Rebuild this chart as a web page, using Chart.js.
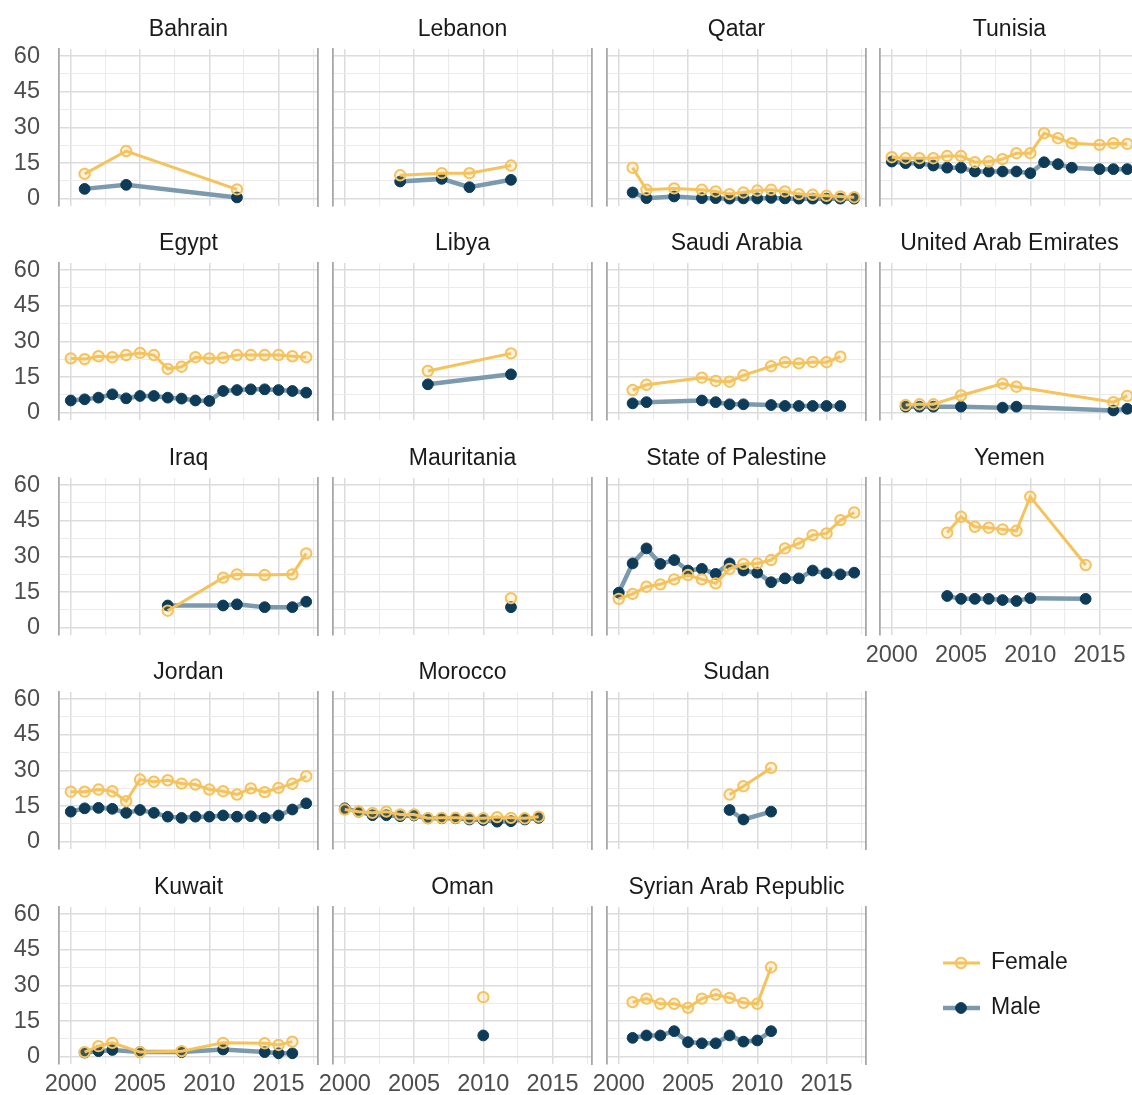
<!DOCTYPE html>
<html><head><meta charset="utf-8">
<script src="https://cdn.jsdelivr.net/npm/chart.js@4.4.1/dist/chart.umd.min.js"></script>
<style>
html,body{margin:0;padding:0;background:#fff;width:1132px;height:1095px;overflow:hidden;}
#wrap{position:relative;width:1132px;height:1095px;overflow:hidden;background:#fff;}
#wrap canvas{position:absolute;}
</style></head><body><div id="wrap"></div>
<script>
// ---------- tick labels ----------
const xMajorTicks = [2000, 2005, 2010, 2015];
const yMajorTicks = [0, 15, 30, 45, 60];
const seriesNames = ["Female", "Male"];

// ---------- panel order ----------
const countries = ["Bahrain","Lebanon","Qatar","Tunisia","Egypt","Libya","Saudi Arabia","United Arab Emirates",
  "Iraq","Mauritania","State of Palestine","Yemen","Jordan","Morocco","Sudan","Kuwait","Oman","Syrian Arab Republic"];

// ---------- data ----------
const bahrainYears = [2001, 2004, 2012];
const bahrainFemale = [10.5, 20.1, 4.0];
const bahrainMale = [4.2, 5.9, 0.6];

const lebanonYears = [2004, 2007, 2009, 2012];
const lebanonFemale = [9.9, 10.8, 10.8, 14.0];
const lebanonMale = [7.3, 8.4, 4.9, 8.0];

const qatarYears = [2001, 2002, 2004, 2006, 2007, 2008, 2009, 2010, 2011, 2012, 2013, 2014, 2015, 2016, 2017];
const qatarFemale = [13.1, 3.8, 4.4, 3.8, 3.1, 2.0, 2.7, 3.5, 3.8, 3.1, 2.0, 1.7, 1.3, 1.0, 0.7];
const qatarMale = [2.7, 0.3, 1.0, 0.3, 0.3, 0.1, 0.2, 0.2, 0.4, 0.2, 0.1, 0.1, 0.1, 0.1, 0.1];

const tunisiaYears = [2000, 2001, 2002, 2003, 2004, 2005, 2006, 2007, 2008, 2009, 2010, 2011, 2012, 2013, 2015, 2016, 2017];
const tunisiaFemale = [17.5, 17.1, 17.1, 17.1, 18.0, 18.0, 15.4, 15.7, 16.7, 19.2, 19.2, 27.6, 25.5, 23.4, 22.7, 23.4, 23.1];
const tunisiaMale = [15.7, 15.0, 15.0, 14.0, 13.1, 13.1, 11.5, 11.5, 11.5, 11.5, 10.8, 15.4, 14.6, 13.1, 12.5, 12.5, 12.5];

const egyptYears = [2000, 2001, 2002, 2003, 2004, 2005, 2006, 2007, 2008, 2009, 2010, 2011, 2012, 2013, 2014, 2015, 2016, 2017];
const egyptFemale = [22.9, 22.6, 23.8, 23.4, 24.3, 25.2, 24.3, 18.5, 19.4, 23.4, 22.9, 23.2, 24.3, 24.3, 24.3, 24.3, 23.8, 23.4];
const egyptMale = [5.2, 5.7, 6.4, 7.8, 6.1, 7.1, 7.1, 6.4, 6.0, 5.2, 5.0, 9.2, 9.6, 9.9, 9.9, 9.6, 9.2, 8.5];

const libyaYears = [2006, 2012];
const libyaFemale = [17.6, 25.0];
const libyaMale = [12.0, 16.2];

const saudiYears = [2001, 2002, 2006, 2007, 2008, 2009, 2011, 2012, 2013, 2014, 2015, 2016];
const saudiFemale = [9.6, 11.8, 14.8, 13.4, 13.1, 15.8, 19.6, 21.3, 20.8, 21.4, 21.3, 23.6];
const saudiMale = [4.0, 4.5, 5.2, 4.5, 3.6, 3.6, 3.3, 2.9, 2.9, 2.9, 2.9, 2.9];

const uaeYears = [2001, 2002, 2003, 2005, 2008, 2009, 2016, 2017];
const uaeFemale = [3.3, 3.6, 3.6, 7.3, 12.3, 11.0, 4.5, 7.1];
const uaeMale = [2.6, 2.6, 2.6, 2.6, 2.2, 2.6, 1.0, 1.7];

const iraqYears = [2007, 2011, 2012, 2014, 2016, 2017];
const iraqFemale = [7.2, 21.1, 22.5, 22.2, 22.5, 31.3];
const iraqMale = [9.4, 9.4, 9.9, 8.7, 8.7, 11.0];

const mauritaniaYears = [2012];
const mauritaniaFemale = [12.5];
const mauritaniaMale = [8.7];

const palestineYears = [2000, 2001, 2002, 2003, 2004, 2005, 2006, 2007, 2008, 2009, 2010, 2011, 2012, 2013, 2014, 2015, 2016, 2017];
const palestineFemale = [12.2, 14.3, 17.3, 18.3, 20.4, 22.2, 20.4, 18.7, 24.8, 26.9, 27.1, 28.5, 33.4, 35.5, 39.0, 39.7, 45.3, 48.5];
const palestineMale = [14.8, 27.1, 33.4, 26.9, 28.5, 24.1, 24.8, 22.7, 27.1, 24.1, 23.2, 19.2, 20.8, 20.8, 24.1, 22.9, 22.5, 23.2];

const yemenYears = [2004, 2005, 2006, 2007, 2008, 2009, 2010, 2014];
const yemenFemale = [40.0, 46.7, 42.5, 42.1, 41.4, 40.8, 55.1, 26.4];
const yemenMale = [13.4, 12.2, 12.2, 12.2, 11.7, 11.3, 12.5, 12.2];

const jordanYears = [2000, 2001, 2002, 2003, 2004, 2005, 2006, 2007, 2008, 2009, 2010, 2011, 2012, 2013, 2014, 2015, 2016, 2017];
const jordanFemale = [21.1, 21.1, 22.0, 21.3, 17.1, 26.2, 25.3, 25.9, 24.5, 24.1, 22.0, 21.3, 19.9, 22.5, 20.9, 22.7, 24.4, 27.6];
const jordanMale = [12.7, 14.1, 14.3, 13.9, 12.2, 13.4, 12.2, 10.6, 10.1, 10.6, 10.6, 11.1, 10.6, 10.8, 10.1, 11.1, 13.6, 16.2];

const moroccoYears = [2000, 2001, 2002, 2003, 2004, 2005, 2006, 2007, 2008, 2009, 2010, 2011, 2012, 2013, 2014];
const moroccoFemale = [13.6, 12.7, 12.2, 12.7, 11.5, 11.5, 9.9, 10.1, 10.1, 9.9, 9.9, 10.4, 10.1, 9.9, 10.6];
const moroccoMale = [14.1, 12.7, 11.2, 11.2, 10.8, 11.1, 9.9, 9.9, 9.9, 9.4, 9.2, 8.5, 8.7, 9.4, 10.1];

const sudanYears = [2008, 2009, 2011];
const sudanFemale = [19.9, 23.4, 31.1];
const sudanMale = [13.4, 9.4, 12.7];

const kuwaitYears = [2001, 2002, 2003, 2005, 2008, 2011, 2014, 2015, 2016];
const kuwaitFemale = [2.0, 4.5, 5.9, 2.0, 2.4, 5.9, 5.7, 5.0, 6.4];
const kuwaitMale = [1.8, 2.4, 2.9, 2.0, 2.0, 3.1, 2.0, 1.5, 1.5];

const omanYears = [2010];
const omanFemale = [25.1];
const omanMale = [9.0];

const syriaYears = [2001, 2002, 2003, 2004, 2005, 2006, 2007, 2008, 2009, 2010, 2011];
const syriaFemale = [23.0, 24.5, 22.3, 22.3, 20.6, 24.5, 26.2, 24.8, 22.7, 22.3, 37.7];
const syriaMale = [8.0, 9.0, 9.0, 10.8, 6.2, 5.7, 5.7, 9.0, 6.4, 6.9, 10.8];

const countrySeries = {
  "Bahrain": [bahrainYears, bahrainFemale, bahrainMale],
  "Lebanon": [lebanonYears, lebanonFemale, lebanonMale],
  "Qatar": [qatarYears, qatarFemale, qatarMale],
  "Tunisia": [tunisiaYears, tunisiaFemale, tunisiaMale],
  "Egypt": [egyptYears, egyptFemale, egyptMale],
  "Libya": [libyaYears, libyaFemale, libyaMale],
  "Saudi Arabia": [saudiYears, saudiFemale, saudiMale],
  "United Arab Emirates": [uaeYears, uaeFemale, uaeMale],
  "Iraq": [iraqYears, iraqFemale, iraqMale],
  "Mauritania": [mauritaniaYears, mauritaniaFemale, mauritaniaMale],
  "State of Palestine": [palestineYears, palestineFemale, palestineMale],
  "Yemen": [yemenYears, yemenFemale, yemenMale],
  "Jordan": [jordanYears, jordanFemale, jordanMale],
  "Morocco": [moroccoYears, moroccoFemale, moroccoMale],
  "Sudan": [sudanYears, sudanFemale, sudanMale],
  "Kuwait": [kuwaitYears, kuwaitFemale, kuwaitMale],
  "Oman": [omanYears, omanFemale, omanMale],
  "Syrian Arab Republic": [syriaYears, syriaFemale, syriaMale]
};

// ---------- layout & style ----------
const FONT = "'Liberation Sans', Arial, Helvetica, sans-serif";
Chart.defaults.font.family = FONT;
Chart.defaults.animation = false;

const X_MIN = 1999.15, X_MAX = 2017.85, Y_MIN = -3, Y_MAX = 63;
const COL_LEFT = [59, 333, 607, 880];
const ROW_TOP = [49, 263, 478, 692, 907];
const PLOT_W = 259, PLOT_H = 157;
const TITLE_H = 40, XAXIS_H = 34, YAXIS_W = 59, SIDE_PAD = 32, BOTTOM_PAD = 10;
const GRID_MAJOR = '#dcdcdc', GRID_MINOR = '#ebebeb', EDGE = '#a8a8a8';
const FEMALE_COLOR = '#f5c25c', MALE_LINE = '#7c9aad', MALE_POINT = '#0d3b58';
const TICK_FONT = 23.5;

const xGridValues = [];
xMajorTicks.forEach(v => { xGridValues.push(v, v + 2.5); });
const yGridValues = [];
yMajorTicks.forEach(v => { yGridValues.push(v); if (v < 60) yGridValues.push(v + 7.5); });

function panelPos(i) {
  if (i < 12) return [Math.floor(i / 4), i % 4];
  if (i < 15) return [3, i - 12];
  return [4, i - 15];
}

function femaleStyle(data) {
  return { label: seriesNames[0], data, borderColor: FEMALE_COLOR, borderWidth: 3,
    pointRadius: 5.2, pointHoverRadius: 5.2, pointBorderWidth: 2, pointBorderColor: FEMALE_COLOR,
    pointBackgroundColor: 'rgba(246,196,92,0.2)', pointStyle: 'circle', tension: 0, fill: false };
}
function maleStyle(data) {
  return { label: seriesNames[1], data, borderColor: MALE_LINE, borderWidth: 4.5,
    pointRadius: 5.4, pointHoverRadius: 5.4, pointBorderWidth: 1, pointBorderColor: MALE_POINT,
    pointBackgroundColor: MALE_POINT, pointStyle: 'circle', tension: 0, fill: false };
}

const zeroPad = a => { a.paddingLeft = 0; a.paddingRight = 0; a.paddingTop = 0; a.paddingBottom = 0; };
const gridColor = (ctx, majors) => (ctx.tick && majors.includes(ctx.tick.value)) ? GRID_MAJOR : GRID_MINOR;
const gridWidth = (ctx, majors) => (ctx.tick && majors.includes(ctx.tick.value)) ? 1.5 : 1.1;

function makeScales(showX, showY) {
  return {
    x: {
      type: 'linear', position: 'bottom', min: X_MIN, max: X_MAX,
      afterBuildTicks: a => { a.ticks = xGridValues.map(v => ({ value: v })); },
      afterFit: a => { a.height = showX ? XAXIS_H : 0; zeroPad(a); },
      grid: { drawTicks: false, color: c => gridColor(c, xMajorTicks), lineWidth: c => gridWidth(c, xMajorTicks) },
      border: { display: false },
      ticks: { display: showX, autoSkip: false, maxRotation: 0, minRotation: 0, padding: 6,
        color: '#4d4d4d', font: { size: TICK_FONT },
        callback: v => xMajorTicks.includes(v) ? String(v) : '' }
    },
    y: {
      type: 'linear', position: 'left', min: Y_MIN, max: Y_MAX,
      afterBuildTicks: a => { a.ticks = yGridValues.map(v => ({ value: v })); },
      afterFit: a => { a.width = showY ? YAXIS_W : 0; zeroPad(a); },
      grid: { drawTicks: false, color: c => gridColor(c, yMajorTicks), lineWidth: c => gridWidth(c, yMajorTicks) },
      border: { display: true, color: EDGE, width: 1.8 },
      ticks: { display: showY, autoSkip: false, padding: 19, color: '#4d4d4d', font: { size: TICK_FONT },
        callback: v => yMajorTicks.includes(v) ? String(v) : '' }
    },
    yr: {
      type: 'linear', position: 'right', min: Y_MIN, max: Y_MAX,
      afterFit: a => { a.width = 0; zeroPad(a); },
      grid: { display: false, drawTicks: false },
      border: { display: true, color: EDGE, width: 1.8 },
      ticks: { display: false }
    }
  };
}

const wrap = document.getElementById('wrap');

countries.forEach((name, i) => {
  const [r, c] = panelPos(i);
  const showX = (r === 4) || name === 'Yemen';
  const showY = (c === 0);
  const leftExtra = showY ? YAXIS_W : SIDE_PAD;
  const w = leftExtra + PLOT_W + SIDE_PAD;
  const h = TITLE_H + PLOT_H + (showX ? XAXIS_H : BOTTOM_PAD);
  const cv = document.createElement('canvas');
  cv.width = w; cv.height = h;
  cv.style.width = w + 'px'; cv.style.height = h + 'px';
  cv.style.left = (COL_LEFT[c] - leftExtra) + 'px';
  cv.style.top = (ROW_TOP[r] - TITLE_H) + 'px';
  wrap.appendChild(cv);

  const [years, fem, mal] = countrySeries[name];
  const fData = years.map((y, k) => ({ x: y, y: fem[k] }));
  const mData = years.map((y, k) => ({ x: y, y: mal[k] }));

  new Chart(cv, {
    type: 'line',
    data: { datasets: [femaleStyle(fData), maleStyle(mData)] },
    options: {
      responsive: false, devicePixelRatio: 1, animation: false,
      layout: { padding: { left: showY ? 0 : SIDE_PAD, right: SIDE_PAD, top: 0, bottom: showX ? 0 : BOTTOM_PAD } },
      scales: makeScales(showX, showY),
      plugins: {
        legend: { display: false },
        tooltip: { enabled: false },
        title: { display: true, text: name, fullSize: false, color: '#1a1a1a',
          font: { size: 23, weight: 'normal', lineHeight: '28px' }, padding: { top: 7, bottom: 5 } }
      }
    }
  });
});

// ---------- legend ----------
const seriesKey = {
  id: 'seriesKey',
  afterDraw(chart) {
    const ctx = chart.ctx;
    chart.data.datasets.forEach((ds, k) => {
      const y = 33 + k * 45;
      ctx.save();
      ctx.strokeStyle = ds.borderColor; ctx.lineWidth = ds.borderWidth; ctx.lineCap = 'butt';
      ctx.beginPath(); ctx.moveTo(13, y); ctx.lineTo(50, y); ctx.stroke();
      ctx.beginPath(); ctx.arc(31, y, ds.pointRadius, 0, Math.PI * 2);
      ctx.fillStyle = ds.pointBackgroundColor; ctx.fill();
      ctx.lineWidth = ds.pointBorderWidth; ctx.strokeStyle = ds.pointBorderColor; ctx.stroke();
      ctx.fillStyle = '#1a1a1a'; ctx.font = '23px ' + FONT; ctx.textBaseline = 'middle'; ctx.textAlign = 'left';
      ctx.fillText(ds.label, 61, y);
      ctx.restore();
    });
  }
};
const lc = document.createElement('canvas');
lc.width = 200; lc.height = 110;
lc.style.width = '200px'; lc.style.height = '110px';
lc.style.left = '930px'; lc.style.top = '930px';
wrap.appendChild(lc);
new Chart(lc, {
  type: 'line',
  data: { datasets: [femaleStyle([]), maleStyle([])] },
  options: {
    responsive: false, devicePixelRatio: 1, animation: false,
    scales: { x: { display: false }, y: { display: false } },
    plugins: { legend: { display: false }, tooltip: { enabled: false }, title: { display: false } }
  },
  plugins: [seriesKey]
});
</script>
</body></html>
